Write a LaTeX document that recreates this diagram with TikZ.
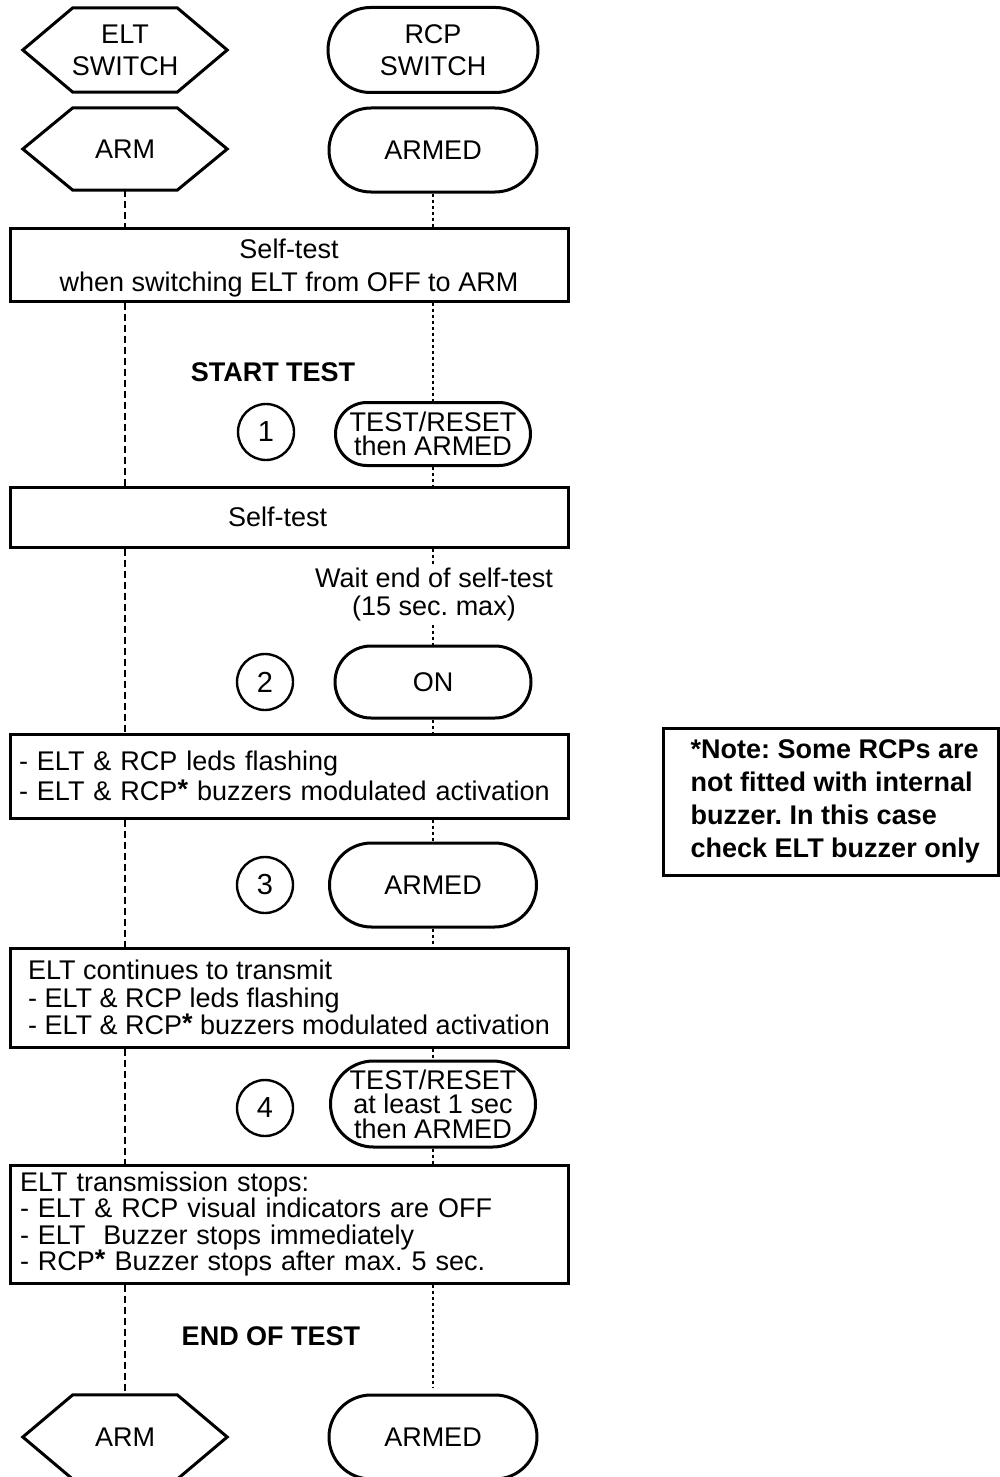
\documentclass[tikz,border=0pt]{standalone}
\usepackage{fontspec}
\setmainfont{Liberation Sans}
\frenchspacing
\newcommand\starmark{\raisebox{2pt}{\bfseries *}}
\tikzset{
  every node/.style={font=\fontsize{27pt}{32pt}\selectfont},
  hexn/.style={minimum width=204pt, minimum height=83pt, inner sep=0pt, align=center},
  hexline/.style={draw, line width=3pt, line join=miter},
  stad/.style={draw, line width=3pt, minimum width=208pt, minimum height=84pt, rounded corners=42pt, inner sep=0pt, align=center},
  panel/.style={draw, line width=3pt, minimum width=558pt, inner sep=0pt},
  num/.style={draw, circle, line width=2.4pt, minimum size=56pt, inner sep=0pt, font=\fontsize{29pt}{32pt}\selectfont},
  eltline/.style={line width=2.8pt, dash pattern=on 7pt off 4pt},
  rcpline/.style={line width=2.8pt, dash pattern=on 3pt off 3pt},
  boldtxt/.style={font=\bfseries\fontsize{27pt}{33pt}\selectfont}
}
\begin{document}
\frenchspacing
\begin{tikzpicture}[x=1pt,y=-1pt]
\useasboundingbox (0,0) rectangle (1000,1477);
% top
\node[hexn, minimum height=84pt] (eltsw) at (125,50) {ELT\\SWITCH};
\draw[hexline] (eltsw.west) -- ([xshift=50pt]eltsw.north west) -- ([xshift=-50pt]eltsw.north east) -- (eltsw.east) -- ([xshift=-50pt]eltsw.south east) -- ([xshift=50pt]eltsw.south west) -- cycle;
\node[stad, minimum width=210pt, minimum height=85pt, rounded corners=42.5pt] (rcpsw) at (433,50) {RCP\\SWITCH};
\node[hexn, minimum height=82pt] (arm1) at (125,149) {ARM};
\draw[hexline] (arm1.west) -- ([xshift=50pt]arm1.north west) -- ([xshift=-50pt]arm1.north east) -- (arm1.east) -- ([xshift=-50pt]arm1.south east) -- ([xshift=50pt]arm1.south west) -- cycle;
\node[stad] (armed1) at (433,150) {ARMED};
% box 1
\node[panel, align=center, minimum height=73pt, font=\fontsize{27pt}{33pt}\selectfont] (box1) at (289,264.5) {\rule{0pt}{27pt}Self-test\\when switching ELT from OFF to ARM};
\node[boldtxt] (start) at (273,372) {START TEST};
\node[num] (c1) at (266,432) {1};
\node[stad, minimum width=195pt, minimum height=63pt, rounded corners=31.5pt, font=\fontsize{27pt}{24.5pt}\selectfont] (tr1) at (433,434) {TEST/RESET\\then ARMED};
% box 2
\node[panel, align=left, inner xsep=218pt, text width=122pt, minimum height=60pt] (box2) at (289,517) {Self-test};
\node[align=center, font=\fontsize{27pt}{28pt}\selectfont, inner sep=3pt] (wait) at (434,595) {Wait end of self-test\\(15 sec. max)};
\node[num] (c2) at (265,682) {2};
\node[stad, minimum width=196pt, minimum height=72pt, rounded corners=36pt] (on) at (433,682) {ON};
% box 3
\node[panel, align=left, inner xsep=9pt, text width=540pt, minimum height=84pt, font=\fontsize{27pt}{30pt}\selectfont] (box3) at (289,776) {- ELT \& RCP leds flashing\\- ELT \& RCP\starmark{} buzzers modulated activation};
\node[num] (c3) at (265,885) {3};
\node[stad, minimum width=207pt] (armed3) at (433,885) {ARMED};
% box 4
\node[panel, align=left, minimum height=99pt, font=\fontsize{27pt}{27.5pt}\selectfont] (box4) at (289,997.5) {ELT continues to transmit\\- ELT \& RCP leds flashing\\- ELT \& RCP\starmark{} buzzers modulated activation};
\node[num] (c4) at (265,1108) {4};
\node[stad, minimum width=205pt, minimum height=86pt, rounded corners=43pt, font=\fontsize{27pt}{24.5pt}\selectfont] (tr4) at (433,1104) {TEST/RESET\\at least 1 sec\\then ARMED};
% box 5
\node[panel, align=left, inner xsep=10pt, text width=538pt, minimum height=118pt, font=\fontsize{27pt}{26.3pt}\selectfont] (box5) at (289,1224) {ELT transmission stops:\\- ELT \& RCP visual indicators are OFF\\- ELT~ Buzzer stops immediately\\- RCP\starmark{} Buzzer stops after max. 5 sec.};
\node[boldtxt] (endtest) at (271,1336) {END OF TEST};
% bottom
\node[hexn, minimum height=84pt] (arm2) at (125,1437) {ARM};
\draw[hexline] (arm2.west) -- ([xshift=50pt]arm2.north west) -- ([xshift=-50pt]arm2.north east) -- (arm2.east) -- ([xshift=-50pt]arm2.south east) -- ([xshift=50pt]arm2.south west) -- cycle;
\node[stad] (armed2) at (433,1437) {ARMED};
% note
\node[draw, line width=3pt, minimum width=335pt, minimum height=147pt, inner sep=0pt] (note) at (830.5,801.5) {};
\node[anchor=west, align=left, inner sep=0pt, boldtxt] (notetxt) at ([xshift=29pt]note.west) {*Note: Some RCPs are\\not fitted with internal\\buzzer. In this case\\check ELT buzzer only};
% ELT lifeline
\draw[eltline] (arm1.south) -- (arm1.south |- box1.north);
\draw[eltline] (box1.south -| arm1.south) -- (box2.north -| arm1.south);
\draw[eltline] (box2.south -| arm1.south) -- (box3.north -| arm1.south);
\draw[eltline] (box3.south -| arm1.south) -- (box4.north -| arm1.south);
\draw[eltline] (box4.south -| arm1.south) -- (box5.north -| arm1.south);
\draw[eltline, shorten >=4pt] (box5.south -| arm2.north) -- (arm2.north);
% RCP lifeline
\draw[rcpline] (armed1.south) -- (armed1.south |- box1.north);
\draw[rcpline] (box1.south -| tr1.north) -- (tr1.north);
\draw[rcpline] (tr1.south) -- (tr1.south |- box2.north);
\draw[rcpline] (box2.south -| on.north) -- (wait.north -| on.north);
\draw[rcpline] (wait.south -| on.north) -- (on.north);
\draw[rcpline] (on.south) -- (on.south |- box3.north);
\draw[rcpline] (box3.south -| armed3.north) -- (armed3.north);
\draw[rcpline] (armed3.south) -- (armed3.south |- box4.north);
\draw[rcpline] (box4.south -| tr4.north) -- (tr4.north);
\draw[rcpline] (tr4.south) -- (tr4.south |- box5.north);
\draw[rcpline, shorten >=6pt] (box5.south -| armed2.north) -- (armed2.north);
\end{tikzpicture}
\end{document}
